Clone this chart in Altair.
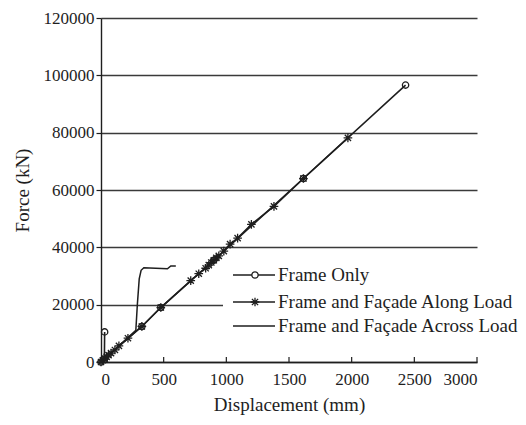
import altair as alt
import pandas as pd

# ---------------- data ----------------
frame_only_disp = [29, 27, 0, 326, 477, 900, 1615, 2430]
frame_only_force = [10500, 1000, 0, 12400, 19000, 35500, 64000, 96600]

along_disp = [0, 15, 30, 45, 60, 80, 111, 143, 215, 326, 477, 716, 780, 835, 860,
              880, 900, 920, 940, 980, 1030, 1090, 1200, 1380, 1615, 1970]
along_force = [0, 600, 1200, 1800, 2400, 3100, 4200, 5600, 8300, 12400, 19000, 28400,
               30800, 32700, 33800, 34700, 35500, 36300, 37000, 38700, 41100, 43200,
               48000, 54300, 64000, 78200]

across_disp = [0, 100, 200, 278, 290, 305, 320, 342, 530, 557, 597]
across_force = [0, 4000, 7900, 11100, 20000, 29000, 32000, 32900, 32500, 33500, 33500]

x_ticks = [0, 500, 1000, 1500, 2000, 2500, 3000]
y_ticks = [0, 20000, 40000, 60000, 80000, 100000, 120000]

legend_labels = ["Frame Only", "Frame and Façade Along Load", "Frame and Façade Across Load"]

# ---------------- layout ----------------
W, H = 376, 344
FONT = "Liberation Serif"
INK = "#1e1e1e"
STAR = "M-1,0L1,0M0,-1L0,1M-0.72,-0.72L0.72,0.72M-0.72,0.72L0.72,-0.72"

fo = pd.DataFrame({"d": frame_only_disp, "f": frame_only_force,
                   "o": list(range(len(frame_only_disp)))})
al = pd.DataFrame({"d": along_disp, "f": along_force, "o": list(range(len(along_disp)))})
ac = pd.DataFrame({"d": across_disp, "f": across_force, "o": list(range(len(across_disp)))})
xt = pd.DataFrame({"d": x_ticks})

xscale = alt.Scale(domain=[0, 3000], nice=False, zero=False)
yscale = alt.Scale(domain=[0, 120000], nice=False, zero=False)

xaxis = alt.Axis(values=x_ticks, format="d", title="Displacement (mm)", ticks=False,
                 grid=False, labelPadding=9, titlePadding=8, domainColor=INK,
                 domainWidth=1.4)
yaxis = alt.Axis(values=y_ticks, format="d", title="Force (kN)", grid=True,
                 gridColor="#3a3a3a", gridWidth=1.3, tickSize=5, tickColor=INK,
                 tickWidth=1.2, labelPadding=2, titlePadding=11, domainColor=INK,
                 domainWidth=1.4)

X = alt.X("d:Q", scale=xscale, axis=xaxis)
Y = alt.Y("f:Q", scale=yscale, axis=yaxis)
Xn = alt.X("d:Q", scale=xscale)
Yn = alt.Y("f:Q", scale=yscale)

# inward x ticks
xtick_layer = alt.Chart(xt).mark_rule(color=INK, strokeWidth=1.2).encode(
    x=X, y=alt.value(H), y2=alt.value(H - 5))

across_line = alt.Chart(ac).mark_line(color=INK, strokeWidth=1.5).encode(
    x=Xn, y=Y, order="o:Q")
frame_line = alt.Chart(fo).mark_line(color=INK, strokeWidth=1.6).encode(
    x=Xn, y=Yn, order="o:Q")
along_line = alt.Chart(al).mark_line(color=INK, strokeWidth=1.6).encode(
    x=Xn, y=Yn, order="o:Q")
frame_pts = alt.Chart(fo).mark_point(shape="circle", size=40, filled=False,
                                     color=INK, strokeWidth=1.3, opacity=1).encode(
    x=Xn, y=Yn)
along_pts = alt.Chart(al).mark_point(shape=STAR, size=75, filled=False,
                                     color=INK, strokeWidth=1.3, opacity=1).encode(
    x=Xn, y=Yn)

# manual legend
leg_rows = [257, 284, 308]
one = pd.DataFrame({"k": [0]})
legend_bg = alt.Chart(one).mark_rect(fill="white").encode(
    x=alt.value(122), x2=alt.value(388), y=alt.value(238), y2=alt.value(332))
layers = [xtick_layer, across_line, frame_line, along_line, frame_pts, along_pts, legend_bg]
for i, lab in enumerate(legend_labels):
    yy = leg_rows[i]
    layers.append(alt.Chart(one).mark_rule(color=INK, strokeWidth=1.5).encode(
        x=alt.value(132), x2=alt.value(174), y=alt.value(yy)))
    if i == 0:
        layers.append(alt.Chart(one).mark_point(shape="circle", size=40, filled=False,
                                                fill="white", color=INK, strokeWidth=1.3,
                                                opacity=1).encode(
            x=alt.value(154), y=alt.value(yy)))
    elif i == 1:
        layers.append(alt.Chart(one).mark_point(shape=STAR, size=75, filled=False,
                                                color=INK, strokeWidth=1.3,
                                                opacity=1).encode(
            x=alt.value(154), y=alt.value(yy)))
    layers.append(alt.Chart(pd.DataFrame({"t": [lab]})).mark_text(
        align="left", baseline="middle", font=FONT, fontSize=19, color=INK).encode(
        x=alt.value(177), y=alt.value(yy), text="t:N"))

chart = alt.layer(*layers).properties(
    width=W, height=H,
    background="white",
    autosize=alt.AutoSizeParams(type="none"),
    padding={"left": 93, "top": 10, "right": 41, "bottom": 55},
).configure_view(stroke=None).configure_axis(
    labelFont=FONT, titleFont=FONT, labelFontSize=17, titleFontSize=19,
    labelColor=INK, titleColor=INK, titleFontWeight="normal",
)

chart.save("out.html", embed_options={"renderer": "svg", "actions": False})
